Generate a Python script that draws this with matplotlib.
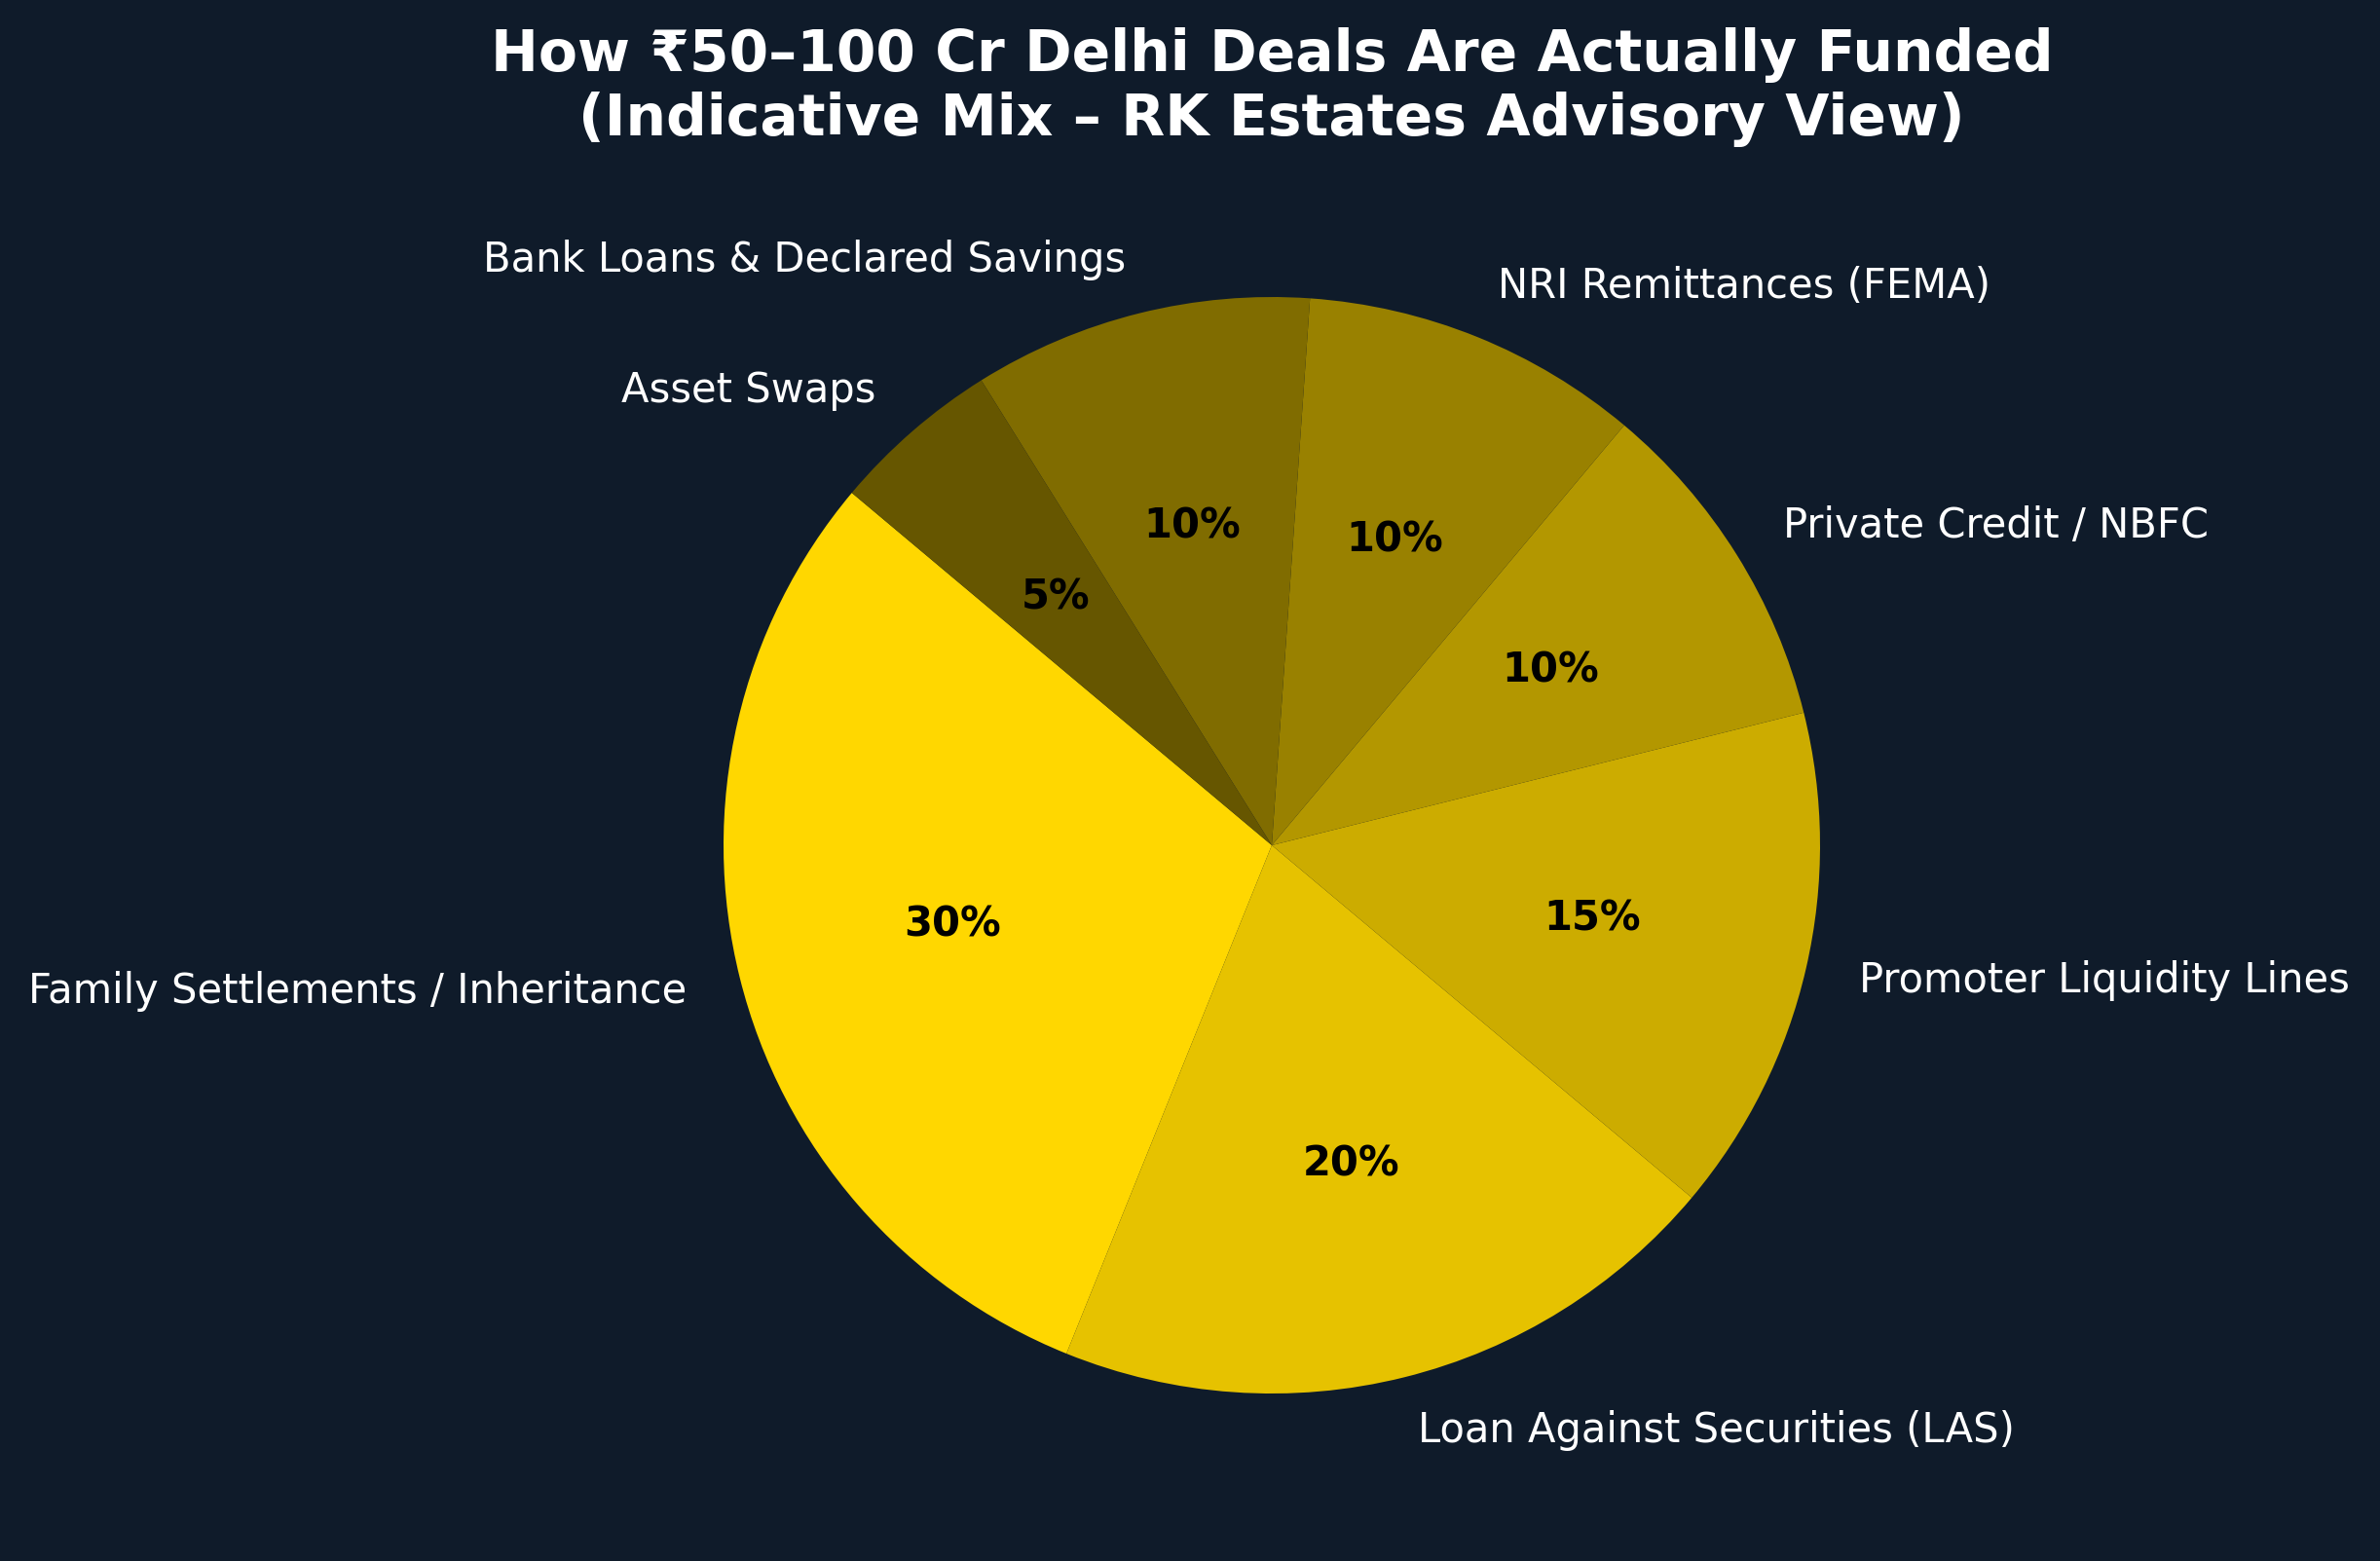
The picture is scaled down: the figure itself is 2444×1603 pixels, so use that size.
import matplotlib
matplotlib.use("Agg")
import matplotlib.pyplot as plt

labels = [
    "Family Settlements / Inheritance",
    "Loan Against Securities (LAS)",
    "Promoter Liquidity Lines",
    "Private Credit / NBFC",
    "NRI Remittances (FEMA)",
    "Bank Loans & Declared Savings",
    "Asset Swaps",
]
shares = [30, 20, 15, 10, 10, 10, 5]
colors = ["#FFD700", "#E6C200", "#CCAC00", "#B39700", "#998100", "#806C00", "#665600"]

bg = "#0F1B2A"
W, H = 2444, 1603

fig = plt.figure(figsize=(W / 200, H / 200), dpi=200)
fig.patch.set_facecolor(bg)

# pie centre and radius (pixels)
cx, cy, r = 1306, 1603 - 868, 563
half = r * 1.25
ax = fig.add_axes([(cx - half) / W, (cy - half) / H, 2 * half / W, 2 * half / H])
ax.set_facecolor(bg)

wedges, texts, autotexts = ax.pie(
    shares,
    labels=labels,
    colors=colors,
    startangle=140,
    autopct="%1.0f%%",
    textprops={"color": "white", "fontsize": 15},
)
for t in autotexts:
    t.set_color("black")
    t.set_fontweight("bold")
    t.set_fontsize(15)

ax.set_xlim(-1.25, 1.25)
ax.set_ylim(-1.25, 1.25)
ax.set_axis_off()

fig.text(
    cx / W, 1 - 28 / H,
    "How ₹50–100 Cr Delhi Deals Are Actually Funded\n(Indicative Mix – RK Estates Advisory View)",
    color="white", fontsize=21, fontweight="bold", ha="center", va="top",
    linespacing=1.2,
)

plt.savefig("out.png", dpi=200, facecolor=bg)
